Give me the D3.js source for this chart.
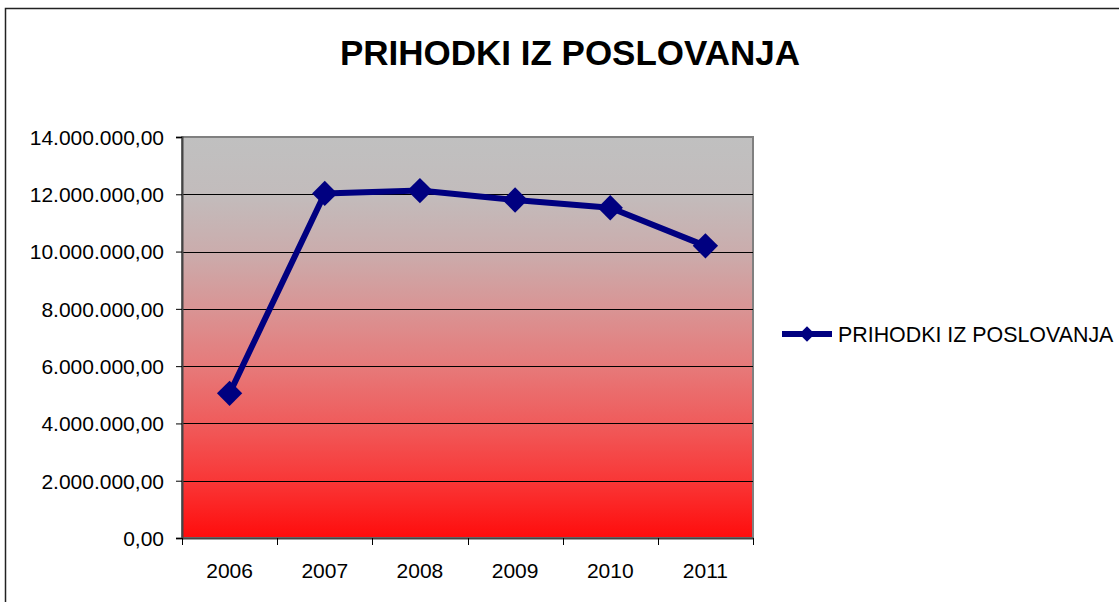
<!DOCTYPE html>
<html>
<head>
<meta charset="utf-8" />
<title>Prihodki iz poslovanja</title>
<script src="https://cdn.jsdelivr.net/npm/d3@7"></script>
<style>
html, body {
	margin: 0;
	background: #fff;
}
svg text {
	font-family: "Liberation Sans", Arial, sans-serif;
}
</style>
</head>
<body>
<div id="chart"></div>
<script>

// values
var years = ["2006", "2007", "2008", "2009", "2010", "2011"];
var prihodki = [5050000, 12030000, 12130000, 11800000, 11530000, 10200000];
var yTicks = [0, 2000000, 4000000, 6000000, 8000000, 10000000, 12000000, 14000000];
var title = "PRIHODKI IZ POSLOVANJA";
var seriesName = "PRIHODKI IZ POSLOVANJA";

var W = 1119, H = 602;
var plot = { left: 182, top: 137, right: 753, bottom: 538 };

var svg = d3.select("#chart").append("svg")
	.attr("width", W)
	.attr("height", H);

// outer chart frame (right/bottom edge fall off the picture)
svg.append("rect")
	.attr("x", 5.5).attr("y", 8.5)
	.attr("width", W + 20).attr("height", H + 20)
	.attr("fill", "#fff")
	.attr("stroke", "#222")
	.attr("stroke-width", 1.5);

// grey to red fill, grey holds a while near the top
var defs = svg.append("defs");
var grad = defs.append("linearGradient")
	.attr("id", "bg")
	.attr("x1", 0).attr("y1", 0).attr("x2", 0).attr("y2", 1);
[[0, "#c0c0c0"], [0.14, "#c2bcbc"], [0.28, "#caadad"], [0.43, "#d99494"],
 [0.57, "#e67a7a"], [0.72, "#f05a5a"], [0.86, "#f93636"], [1, "#ff0c0c"]]
	.forEach(function (s) {
		grad.append("stop").attr("offset", s[0]).attr("stop-color", s[1]);
	});

var x = d3.scaleBand()
	.domain(years)
	.range([plot.left, plot.right]);

var y = d3.scaleLinear()
	.domain([0, 14000000])
	.range([plot.bottom, plot.top]);

// plot area
svg.append("rect")
	.attr("x", plot.left).attr("y", plot.top)
	.attr("width", plot.right - plot.left)
	.attr("height", plot.bottom - plot.top)
	.attr("fill", "url(#bg)")
	.attr("stroke", "#808080")
	.attr("stroke-width", 2);

// gridlines
svg.append("g")
	.selectAll("line")
	.data(yTicks.filter(function (d) { return d > 0 && d < 14000000; }))
	.enter().append("line")
	.attr("x1", plot.left).attr("x2", plot.right)
	.attr("y1", function (d) { return Math.round(y(d)) + 0.5; })
	.attr("y2", function (d) { return Math.round(y(d)) + 0.5; })
	.attr("stroke", "#000")
	.attr("stroke-width", 1);

var fmt = function (d) {
	// 14.000.000,00 style
	var s = d3.format(",.2f")(d);
	return s.replace(/,/g, "#").replace(".", ",").replace(/#/g, ".");
};

// y axis
var yAxis = svg.append("g")
	.attr("transform", "translate(" + plot.left + ",0)")
	.call(d3.axisLeft(y).tickValues(yTicks).tickFormat(fmt).tickSize(6).tickPadding(12));
yAxis.attr("font-size", 21).attr("font-family", null);
yAxis.select(".domain").attr("stroke", "#444").attr("stroke-width", 2);
yAxis.selectAll(".tick line").attr("stroke", "#000");
yAxis.selectAll("text")
	.attr("fill", "#000")
	.style("font-size", "21px")
	.attr("dy", "0.35em");

// x axis
var xAxis = svg.append("g")
	.attr("transform", "translate(0," + plot.bottom + ")")
	.call(d3.axisBottom(x).tickSize(0).tickPadding(0));
xAxis.attr("font-size", 21).attr("font-family", null);
xAxis.select(".domain").attr("stroke", "#444").attr("stroke-width", 2);
xAxis.selectAll("text")
	.attr("fill", "#000")
	.attr("y", 40)
	.attr("dy", 0)
	.style("font-size", "21px");

// category boundary ticks
xAxis.append("g")
	.selectAll("line")
	.data(years.concat(["end"]))
	.enter().append("line")
	.attr("x1", function (d, i) { return Math.round(plot.left + i * x.step()) + 0.5; })
	.attr("x2", function (d, i) { return Math.round(plot.left + i * x.step()) + 0.5; })
	.attr("y1", 0).attr("y2", 7)
	.attr("stroke", "#000");

// series line
var cx = function (d, i) { return x(years[i]) + x.bandwidth() / 2; };

svg.append("path")
	.datum(prihodki)
	.attr("fill", "none")
	.attr("stroke", "#000080")
	.attr("stroke-width", 6)
	.attr("stroke-linejoin", "round")
	.attr("d", d3.line().x(cx).y(function (d) { return y(d); }));

var diamond = d3.symbol().type(d3.symbolSquare).size(320);

svg.append("g")
	.selectAll("path")
	.data(prihodki)
	.enter().append("path")
	.attr("d", diamond)
	.attr("transform", function (d, i) { return "translate(" + cx(d, i) + "," + y(d) + ") rotate(45)"; })
	.attr("fill", "#000080");

// title
svg.append("text")
	.attr("x", 570).attr("y", 65)
	.attr("text-anchor", "middle")
	.style("font-size", "35px")
	.style("font-weight", "bold")
	.text(title);

// legend
var lg = svg.append("g").attr("transform", "translate(782,334)");
lg.append("line")
	.attr("x1", 0).attr("x2", 50)
	.attr("y1", 0).attr("y2", 0)
	.attr("stroke", "#000080")
	.attr("stroke-width", 6);
lg.append("path")
	.attr("d", d3.symbol().type(d3.symbolSquare).size(120))
	.attr("transform", "translate(25,0) rotate(45)")
	.attr("fill", "#000080");
lg.append("text")
	.attr("x", 56).attr("y", 8)
	.style("font-size", "21.4px")
	.text(seriesName);

</script>
</body>
</html>
